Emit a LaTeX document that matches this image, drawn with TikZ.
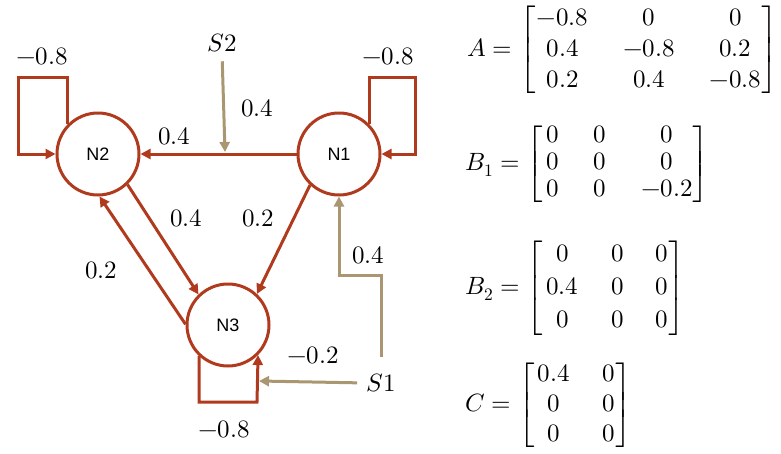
\documentclass[tikz,border=0pt]{standalone}
\usepackage{fontspec}
\usepackage{unicode-math}
\setmathfont{Latin Modern Math}
\newfontfamily\nodefont{Liberation Sans}
\usetikzlibrary{arrows.meta,calc}
\definecolor{edgered}{RGB}{176,58,30}
\definecolor{srctan}{RGB}{170,150,112}
\begin{document}
\begin{tikzpicture}[x=1pt,y=-1pt,
 state/.style={circle,draw=edgered,line width=3pt,minimum size=82pt,inner sep=0pt,font=\nodefont\fontsize{18}{21}\selectfont},
 redarrow/.style={draw=edgered,line width=3pt,-{Triangle[length=10pt,width=10pt]}},
 tanarrow/.style={draw=srctan,line width=3pt,-{Triangle[length=10pt,width=10pt]}},
 lab/.style={font=\fontsize{25}{30}\selectfont,inner sep=0pt},
 mat/.style={anchor=west,inner sep=0pt,font=\fontsize{25}{30}\selectfont}]
\useasboundingbox (0,0) rectangle (781,453);

% states
\node[state] (N1) at (339,154) {N1};
\node[state] (N2) at (98,154) {N2};
\node[state] (N3) at (228,325) {N3};

% inputs
\node[lab] (S2) at (222,43) {$S2$};
\node[lab] (S1) at (381,383) {$S1$};

% helper coordinates
\coordinate (l2a) at (18,77);
\coordinate (l1a) at (415,77);
\coordinate (l3a) at (257,402);
\coordinate (s2t) at (225,152);
\coordinate (s1k) at (339,275);
\coordinate (s1t) at (259,381);

% red connectors
\draw[redarrow] (N1) -- (N2);
\draw[redarrow] (N2.-46) -- (N3.134);
\draw[redarrow] (N3.179) -- (N2.-88);
\draw[redarrow] (N1.-133) -- (N3.47);
\draw[redarrow] (N2.135) |- (l2a) |- (N2.west);
\draw[redarrow] (N1.45) |- (l1a) |- (N1.east);
\draw[redarrow] (N3.-133) |- (l3a) -- (N3.-45);

% tan connectors
\draw[tanarrow,shorten <=9pt] (S2.south) -- (s2t);
\draw[tanarrow,shorten <=17pt] (S1.north) |- (s1k) -- (N1.south);
\draw[tanarrow,shorten <=9pt] (S1.west) -- (s1t);

% labels
\node[lab] (w22) at (42,56) {$-0.8$};
\node[lab] (w11) at (388,56) {$-0.8$};
\node[lab] (w33) at (224,429) {$-0.8$};
\node[lab] (w21) at (174,136) {$0.4$};
\node[lab] (b2) at (257,108) {$0.4$};
\node[lab] (w32) at (186,218) {$0.4$};
\node[lab] (w31) at (258,218) {$0.2$};
\node[lab] (w23) at (101,270) {$0.2$};
\node[lab] (b1) at (368,255) {$0.4$};
\node[lab] (b3) at (313,355) {$-0.2$};

% matrices
\node[mat] (matA) at (467,50) {\renewcommand{\arraystretch}{1.03}$A=\left[\begin{array}{@{\hspace{1pt}}c@{\hspace{35pt}}c@{\hspace{35pt}}c@{\hspace{0pt}}}
-0.8 & 0 & 0\\ 0.4 & -0.8 & 0.2\\ 0.2 & 0.4 & -0.8\end{array}\right]$};
\node[mat] (matB1) at (465,164) {\renewcommand{\arraystretch}{0.9}$B_1=\left[\begin{array}{@{\hspace{3pt}}l@{\hspace{35pt}}c@{\hspace{35pt}}c@{\hspace{0pt}}}
0 & 0 & 0\\ 0 & 0 & 0\\ 0 & 0 & -0.2\end{array}\right]$};
\node[mat] (matB2) at (465,288) {\renewcommand{\arraystretch}{1.1}$B_2=\left[\begin{array}{@{\hspace{3pt}}c@{\hspace{33pt}}c@{\hspace{32pt}}c@{\hspace{0pt}}}
0 & 0 & 0\\ 0.4 & 0 & 0\\ 0 & 0 & 0\end{array}\right]$};
\node[mat] (matC) at (465,405) {\renewcommand{\arraystretch}{1.0}$C=\left[\begin{array}{@{\hspace{3pt}}c@{\hspace{33pt}}c@{\hspace{0pt}}}
0.4 & 0\\ 0 & 0\\ 0 & 0\end{array}\right]$};
\end{tikzpicture}
\end{document}
